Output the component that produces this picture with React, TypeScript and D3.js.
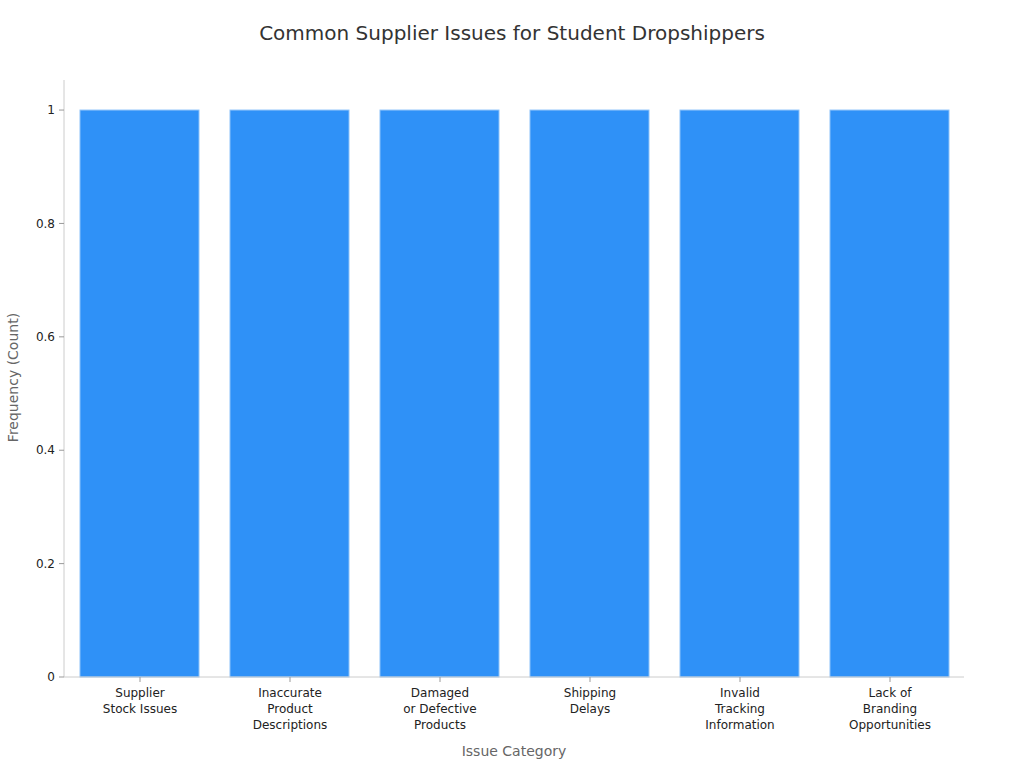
import React from "react";
import * as d3 from "d3";

const categories: string[][] = [
  ["Supplier", "Stock Issues"],
  ["Inaccurate", "Product", "Descriptions"],
  ["Damaged", "or Defective", "Products"],
  ["Shipping", "Delays"],
  ["Invalid", "Tracking", "Information"],
  ["Lack of", "Branding", "Opportunities"],
];
const values: number[] = [1, 1, 1, 1, 1, 1];
const yTicks: number[] = [0, 0.2, 0.4, 0.6, 0.8, 1];

export default function App() {
  const W = 1024, H = 768;
  const left = 64, right = 964, top = 80, bottom = 677;
  const keys = categories.map((c) => c.join(" "));
  const x = d3.scaleBand<string>().domain(keys).range([left + 1, right + 1]).paddingInner(0.2).paddingOuter(0.1);
  const y = d3.scaleLinear().domain([0, 1.053]).range([bottom, top]);
  const font = "DejaVu Sans, sans-serif";
  return (
    <svg width={W} height={H} style={{ position: "absolute", left: 0, top: 0, fontFamily: font }}>
      <rect width={W} height={H} fill="#fff" />
      <text x={512} y={40} textAnchor="middle" fontSize={20} fill="#333">
        Common Supplier Issues for Student Dropshippers
      </text>
      {values.map((v, i) => (
        <rect key={i} x={x(keys[i])!} y={y(v)} width={x.bandwidth() - 1} height={y(0) - y(v)}
          fill="#2f91f7" stroke="#8cc2fa" strokeWidth={1} />
      ))}
      <line x1={left} x2={left} y1={top} y2={bottom} stroke="#ccc" />
      <line x1={left} x2={right} y1={bottom} y2={bottom} stroke="#ccc" />
      {yTicks.map((t) => (
        <g key={t}>
          <line x1={left - 5} x2={left} y1={y(t)} y2={y(t)} stroke="#999" />
          <text x={left - 9} y={y(t)} dy="0.35em" textAnchor="end" fontSize={12} fill="#222">{t}</text>
        </g>
      ))}
      {categories.map((c, i) => {
        const cx = x(keys[i])! + x.bandwidth() / 2;
        return (
          <g key={i}>
            <line x1={cx} x2={cx} y1={bottom} y2={bottom + 5} stroke="#999" />
            {c.map((line, j) => (
              <text key={j} x={cx} y={bottom + 20 + j * 16} textAnchor="middle" fontSize={12} fill="#222">{line}</text>
            ))}
          </g>
        );
      })}
      <text x={514} y={756} textAnchor="middle" fontSize={14} fill="#666">Issue Category</text>
      <text transform={`translate(18,${(top + bottom) / 2 - 1}) rotate(-90)`} textAnchor="middle" fontSize={14} fill="#666">Frequency (Count)</text>
    </svg>
  );
}
